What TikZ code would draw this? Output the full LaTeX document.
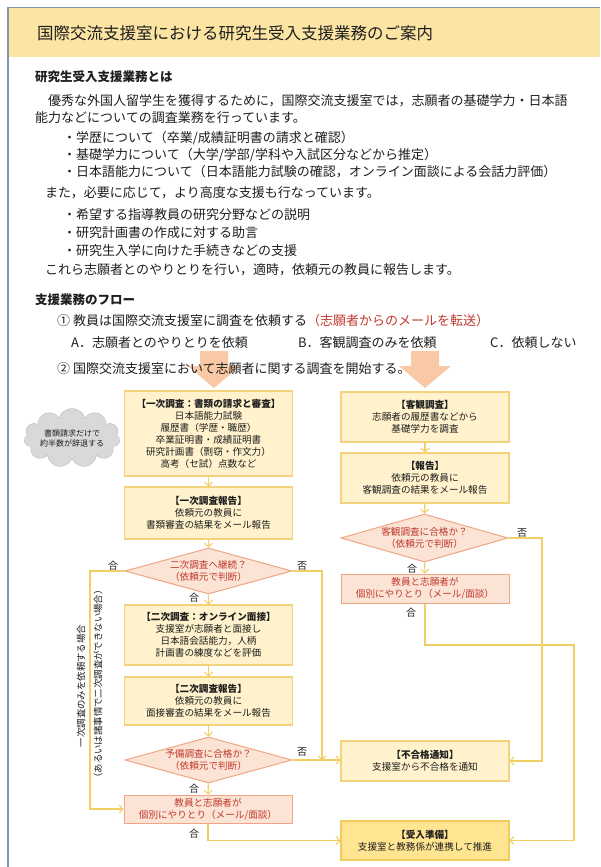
\documentclass[tikz,border=0pt]{standalone}
\usepackage{fontspec}
\setmainfont{Noto Sans CJK JP}
\usetikzlibrary{arrows.meta,shapes.geometric,shapes.symbols}
\definecolor{hdr}{HTML}{FCE5A2}
\definecolor{framecol}{HTML}{7F97AE}
\definecolor{boxfill}{HTML}{FFF2CC}
\definecolor{boxdraw}{HTML}{F3D27B}
\definecolor{recvfill}{HTML}{FFE592}
\definecolor{recvdraw}{HTML}{F2CC5A}
\definecolor{pinkfill}{HTML}{FBE3D6}
\definecolor{pinkdraw}{HTML}{F0A583}
\definecolor{redtext}{HTML}{C0392B}
\definecolor{linecol}{HTML}{F2CF63}
\definecolor{bigarrow}{HTML}{F8C9A4}
\definecolor{cloudfill}{HTML}{D9D9D9}
\definecolor{bodytext}{HTML}{1E1E1E}
\newcommand{\bodyfont}{\fontsize{13}{15}\selectfont}
\newcommand{\flowfont}{\fontsize{9.6}{12}\selectfont}
\tikzset{
  txt/.style={anchor=west, inner sep=0pt, text=bodytext, font=\bodyfont},
  box/.style={draw=boxdraw, line width=1.2pt, fill=boxfill, minimum width=168pt,
    align=center, inner sep=2pt, text=bodytext, font=\flowfont},
  recvbox/.style={box, fill=recvfill, draw=recvdraw},
  pinkbox/.style={draw=pinkdraw, line width=1pt, fill=pinkfill, minimum width=168pt,
    align=center, inner sep=2pt, text=redtext, font=\flowfont},
  decide/.style={diamond, aspect=3.6, draw=pinkdraw, line width=1pt, fill=pinkfill,
    minimum width=167pt, minimum height=46pt, inner sep=0pt, align=center,
    text=redtext, font=\flowfont},
  conn/.style={draw=linecol, line width=1.1pt, -{Straight Barb[length=3.5pt,width=8pt]}},
  plain/.style={draw=linecol, line width=1.1pt},
  lbl/.style={inner sep=0pt, text=bodytext, font=\fontsize{10}{12}\selectfont},
  vtxt/.style={inner sep=0pt, rotate=90, text=bodytext, font=\fontsize{9.4}{11}\selectfont}
}
\begin{document}
\begin{tikzpicture}[x=1pt,y=-1pt]
\useasboundingbox (0,0) rectangle (600,867);
% header and frame
\fill[hdr] (9,8) rectangle (600,57);
\draw[framecol, line width=0.8pt] (600,7.5) -- (8,7.5);
\draw[framecol, line width=2pt] (8,7) -- (8,867);
\node[txt, font=\fontsize{16.5}{19}\selectfont] (title) at (37,33) {国際交流支援室における研究生受入支援業務のご案内};

% intro text
\node[txt, font=\fontsize{12.5}{15}\selectfont\bfseries] (h1) at (35,77) {研究生受入支援業務とは};
\node[txt] (p1) at (35,101) {　優秀な外国人留学生を獲得するために，国際交流支援室では，志願者の基礎学力・日本語};
\node[txt] (p2) at (35,118) {能力などについての調査業務を行っています。};
\node[txt] (b1) at (63,138) {・学歴について（卒業/成績証明書の請求と確認）};
\node[txt] (b2) at (63,155) {・基礎学力について（大学/学部/学科や入試区分などから推定）};
\node[txt] (b3) at (63,172) {・日本語能力について（日本語能力試験の確認，オンライン面談による会話力評価）};
\node[txt] (p3) at (45,193) {また，必要に応じて，より高度な支援も行なっています。};
\node[txt] (b4) at (63,215) {・希望する指導教員の研究分野などの説明};
\node[txt] (b5) at (63,233) {・研究計画書の作成に対する助言};
\node[txt] (b6) at (63,251) {・研究生入学に向けた手続きなどの支援};
\node[txt] (p4) at (45,270) {これら志願者とのやりとりを行い，適時，依頼元の教員に報告します。};

\node[txt, font=\fontsize{12.5}{15}\selectfont\bfseries] (h2) at (35,300) {支援業務のフロー};
\node[txt] (s1) at (57,321) {① 教員は国際交流支援室に調査を依頼する\textcolor{redtext}{（志願者からのメールを転送）}};
\node[txt] (ca) at (71,343) {A．志願者とのやりとりを依頼};
\node[txt] (cb) at (298,343) {B．客観調査のみを依頼};
\node[txt] (cc) at (490,343) {C．依頼しない};

% big arrows
\fill[bigarrow] (200,351) -- (228,351) -- (228,366) -- (240,366) -- (214,388) -- (188,366) -- (200,366) -- cycle;
\fill[bigarrow] (411,351) -- (439,351) -- (439,366) -- (451,366) -- (425,388) -- (399,366) -- (411,366) -- cycle;
\node[txt] (s2) at (57,369) {② 国際交流支援室において志願者に関する調査を開始する。};

% cloud
\node[cloud, cloud puffs=11, aspect=2.2, fill=cloudfill, draw=cloudfill!85!black, line width=0.4pt,
  minimum width=88pt, minimum height=44pt, inner sep=0pt, align=center, text=bodytext,
  font=\fontsize{8}{10}\selectfont] (cloud) at (72,438) {書類請求だけで\\約半数が辞退する};

% left column
\node[box, minimum height=85pt] (n1) at (208.5,433.5) {\textbf{【一次調査：書類の請求と審査】}\\日本語能力試験\\履歴書（学歴・職歴）\\卒業証明書・成績証明書\\研究計画書（剽窃・作文力）\\高考（セ試）点数など};
\node[box, minimum height=52pt] (n2) at (208.5,513) {\textbf{【一次調査報告】}\\依頼元の教員に\\書類審査の結果をメール報告};
\node[decide] (d1) at (208.5,571) {二次調査へ継続？\\（依頼元で判断）};
\node[box, minimum height=60pt] (n3) at (208.5,635) {\textbf{【二次調査：オンライン面接】}\\支援室が志願者と面接し\\日本語会話能力，人柄\\計画書の練度などを評価};
\node[box, minimum height=48pt] (n4) at (208.5,701) {\textbf{【二次調査報告】}\\依頼元の教員に\\面接審査の結果をメール報告};
\node[decide] (d2) at (208.5,760) {予備調査に合格か？\\（依頼元で判断）};
\node[pinkbox, minimum height=28pt] (n5) at (208,809) {教員と志願者が\\個別にやりとり（メール/面談）};

% right column
\node[box, minimum height=50pt] (r1) at (425,417) {\textbf{【客観調査】}\\志願者の履歴書などから\\基礎学力を調査};
\node[box, minimum height=50pt] (r2) at (425,478) {\textbf{【報告】}\\依頼元の教員に\\客観調査の結果をメール報告};
\node[decide, minimum height=48pt] (dr) at (424.5,538) {客観調査に合格か？\\（依頼元で判断）};
\node[pinkbox, minimum height=29pt] (r3) at (425,588.5) {教員と志願者が\\個別にやりとり（メール/面談）};
\node[box, minimum height=40pt] (r4) at (425,761) {\textbf{【不合格通知】}\\支援室から不合格を通知};
\node[recvbox, minimum height=39pt] (r5) at (425,840.5) {\textbf{【受入準備】}\\支援室と教務係が連携して推進};

% helper coordinates
\coordinate (lx) at (90,571);
\coordinate (rx) at (322,760);
\coordinate (rr) at (542,761);
\coordinate (r3turn) at (425,645);
\coordinate (far) at (574,840.5);

% connectors
\draw[conn] (n1) -- (n2);
\draw[conn] (n2) -- (d1);
\draw[conn] (d1) -- (n3);
\draw[conn] (n3) -- (n4);
\draw[conn] (n4) -- (d2);
\draw[conn] (d2) -- (n5);
\draw[conn] (d1.west) -- (lx) |- (n5.west);
\draw[conn] (d1.east) -| (rx);
\draw[conn] (d2.east) -- (d2.east -| r4.west);
\draw[conn] (n5.south) |- (r5.west);
\draw[conn] (r1) -- (r2);
\draw[conn] (r2) -- (dr);
\draw[conn] (dr) -- (r3);
\draw[conn] (dr.east) -| (rr) -- (r4.east);
\draw[conn] (r3.south) -- (r3turn) -| (far) -- (r5.east);

% labels
\node[lbl] (l1) at (113,566) {合};
\node[lbl] (l2) at (302,566) {否};
\node[lbl] (l3) at (194,598) {合};
\node[lbl] (l4) at (302,752) {否};
\node[lbl] (l5) at (194,789) {合};
\node[lbl] (l6) at (194,834) {合};
\node[lbl] (l7) at (522,533) {否};
\node[lbl] (l8) at (412,569) {合};
\node[lbl] (l9) at (411,613) {合};

% vertical notes
\node[vtxt] (v1) at (81,686) {一次調査のみを依頼する場合};
\node[vtxt] (v2) at (98,684) {（あるいは諸事情で二次調査ができない場合）};
\end{tikzpicture}
\end{document}
